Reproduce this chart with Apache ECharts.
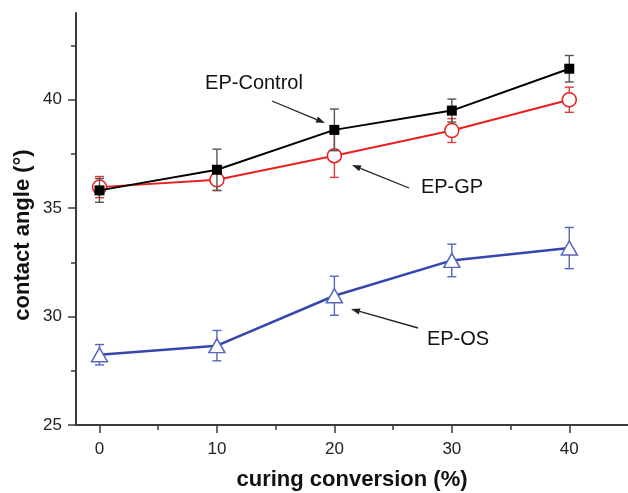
<!DOCTYPE html>
<html><head><meta charset="utf-8">
<script src="https://cdn.jsdelivr.net/npm/echarts@6/dist/echarts.min.js"></script>
<style>html,body{margin:0;padding:0;background:#fff}#c{width:628px;height:493px}</style>
</head><body><div id="c"></div>
<script>
const conversion = [0, 10, 20, 30, 40];
const epControl = [35.82, 36.77, 38.61, 39.50, 41.43];
const epControlErr = [0.55, 0.95, 0.96, 0.53, 0.61];
const epGP = [35.97, 36.31, 37.42, 38.58, 40.00];
const epGPErr = [0.49, 0.50, 1.00, 0.55, 0.58];
const epOS = [28.24, 28.66, 30.96, 32.59, 33.16];
const epOSErr = [0.47, 0.70, 0.90, 0.75, 0.95];
const xTicks = [0, 10, 20, 30, 40];
const xMinorTicks = [5, 15, 25, 35];
const yTicks = [25, 30, 35, 40];
const yMinorTicks = [27.5, 32.5, 37.5, 42.5];

const chart = echarts.init(document.getElementById('c'), null, {renderer: 'canvas'});
const AX = '#3a3a3a';
const FONT = '"Liberation Sans", Arial, sans-serif';

function errSeries(vals, errs, color, capW, z) {
  return {
    type: 'custom', xAxisIndex: 0, yAxisIndex: 0, z: z, silent: true,
    encode: {x: 0, y: [1, 2]},
    data: conversion.map((x, i) => [x, vals[i] - errs[i], vals[i] + errs[i]]),
    renderItem(params, api) {
      const lo = api.coord([api.value(0), api.value(1)]);
      const hi = api.coord([api.value(0), api.value(2)]);
      const hw = capW / 2;
      const st = {stroke: color, lineWidth: 1.4};
      return {type: 'group', children: [
        {type: 'line', shape: {x1: lo[0], y1: lo[1], x2: hi[0], y2: hi[1]}, style: st},
        {type: 'line', shape: {x1: lo[0] - hw, y1: lo[1], x2: lo[0] + hw, y2: lo[1]}, style: st},
        {type: 'line', shape: {x1: hi[0] - hw, y1: hi[1], x2: hi[0] + hw, y2: hi[1]}, style: st}
      ]};
    }
  };
}

function arrow(x1, y1, x2, y2) {
  const a = Math.atan2(y2 - y1, x2 - x1);
  const L = 9, W = 3.2;
  const bx = x2 - L * Math.cos(a), by = y2 - L * Math.sin(a);
  const px = -Math.sin(a) * W, py = Math.cos(a) * W;
  return [
    {type: 'line', shape: {x1: x1, y1: y1, x2: bx, y2: by}, style: {stroke: '#222', lineWidth: 1.3}, z: 10},
    {type: 'polygon', shape: {points: [[x2, y2], [bx + px, by + py], [bx - px, by - py]]}, style: {fill: '#222'}, z: 10}
  ];
}

function annot(text, x, y) {
  return {type: 'text', x: x, y: y, z: 10,
    style: {text: text, font: '20px ' + FONT, fill: '#111', align: 'center', verticalAlign: 'middle'}};
}

const option = {
  animation: false,
  backgroundColor: '#fff',
  grid: {left: 76, right: 0, top: 13, bottom: 68, outerBoundsMode: 'none', containLabel: false},
  xAxis: [{
    type: 'value', min: -2, max: 45,
    axisLine: {show: true, onZero: false, lineStyle: {color: AX, width: 2}},
    axisTick: {show: true, length: 8, lineStyle: {color: AX, width: 1.5}, customValues: xTicks},
    axisLabel: {customValues: xTicks, color: '#222', fontSize: 17, fontFamily: FONT, margin: 16},
    splitLine: {show: false},
    name: 'curing conversion (%)', nameLocation: 'middle', nameGap: 44,
    nameTextStyle: {fontSize: 22, fontWeight: 'bold', color: '#111', fontFamily: FONT}
  }, {
    type: 'value', min: -2, max: 45, gridIndex: 0, position: 'bottom',
    axisLine: {show: false, onZero: false},
    axisTick: {show: true, length: 5, lineStyle: {color: AX, width: 1.5}, customValues: xMinorTicks},
    axisLabel: {show: false}, splitLine: {show: false}
  }],
  yAxis: [{
    type: 'value', min: 25, max: 44,
    axisLine: {show: true, onZero: false, lineStyle: {color: AX, width: 2}},
    axisTick: {show: true, length: 8, lineStyle: {color: AX, width: 1.5}, customValues: yTicks},
    axisLabel: {customValues: yTicks, color: '#222', fontSize: 17, fontFamily: FONT, margin: 14},
    splitLine: {show: false}
  }, {
    type: 'value', min: 25, max: 44, gridIndex: 0, position: 'left',
    axisLine: {show: false, onZero: false},
    axisTick: {show: true, length: 5, lineStyle: {color: AX, width: 1.5}, customValues: yMinorTicks},
    axisLabel: {show: false}, splitLine: {show: false}
  }],
  graphic: [
    {type: 'text', x: 23, y: 235, rotation: Math.PI / 2,
      style: {text: 'contact angle (°)', font: 'bold 22px ' + FONT, fill: '#111', align: 'center', verticalAlign: 'middle'}},
    annot('EP-Control', 254, 83),
    annot('EP-GP', 452, 187),
    annot('EP-OS', 458, 339),
    ...arrow(272, 101, 325, 123),
    ...arrow(409, 188, 352, 165),
    ...arrow(418, 328, 351, 309)
  ],
  series: [
    errSeries(epOS, epOSErr, '#5766bd', 9, 1),
    {type: 'line', name: 'EP-OS', xAxisIndex: 0, yAxisIndex: 0, z: 2,
      data: conversion.map((x, i) => [x, epOS[i]]),
      symbol: 'triangle', symbolSize: [16, 14],
      lineStyle: {color: '#3347ad', width: 2.5},
      itemStyle: {color: '#fff', borderColor: '#5766bd', borderWidth: 1.5}},
    errSeries(epGP, epGPErr, '#e0393a', 9, 3),
    {type: 'line', name: 'EP-GP', xAxisIndex: 0, yAxisIndex: 0, z: 4,
      data: conversion.map((x, i) => [x, epGP[i]]),
      symbol: 'circle', symbolSize: 14,
      lineStyle: {color: '#e8201f', width: 2},
      itemStyle: {color: '#fff', borderColor: '#e8201f', borderWidth: 1.5}},
    errSeries(epControl, epControlErr, '#555', 9, 5),
    {type: 'line', name: 'EP-Control', xAxisIndex: 0, yAxisIndex: 0, z: 6,
      data: conversion.map((x, i) => [x, epControl[i]]),
      symbol: 'rect', symbolSize: 10,
      lineStyle: {color: '#000', width: 2},
      itemStyle: {color: '#000', borderWidth: 0}}
  ]
};
chart.setOption(option);
</script>
</body></html>
